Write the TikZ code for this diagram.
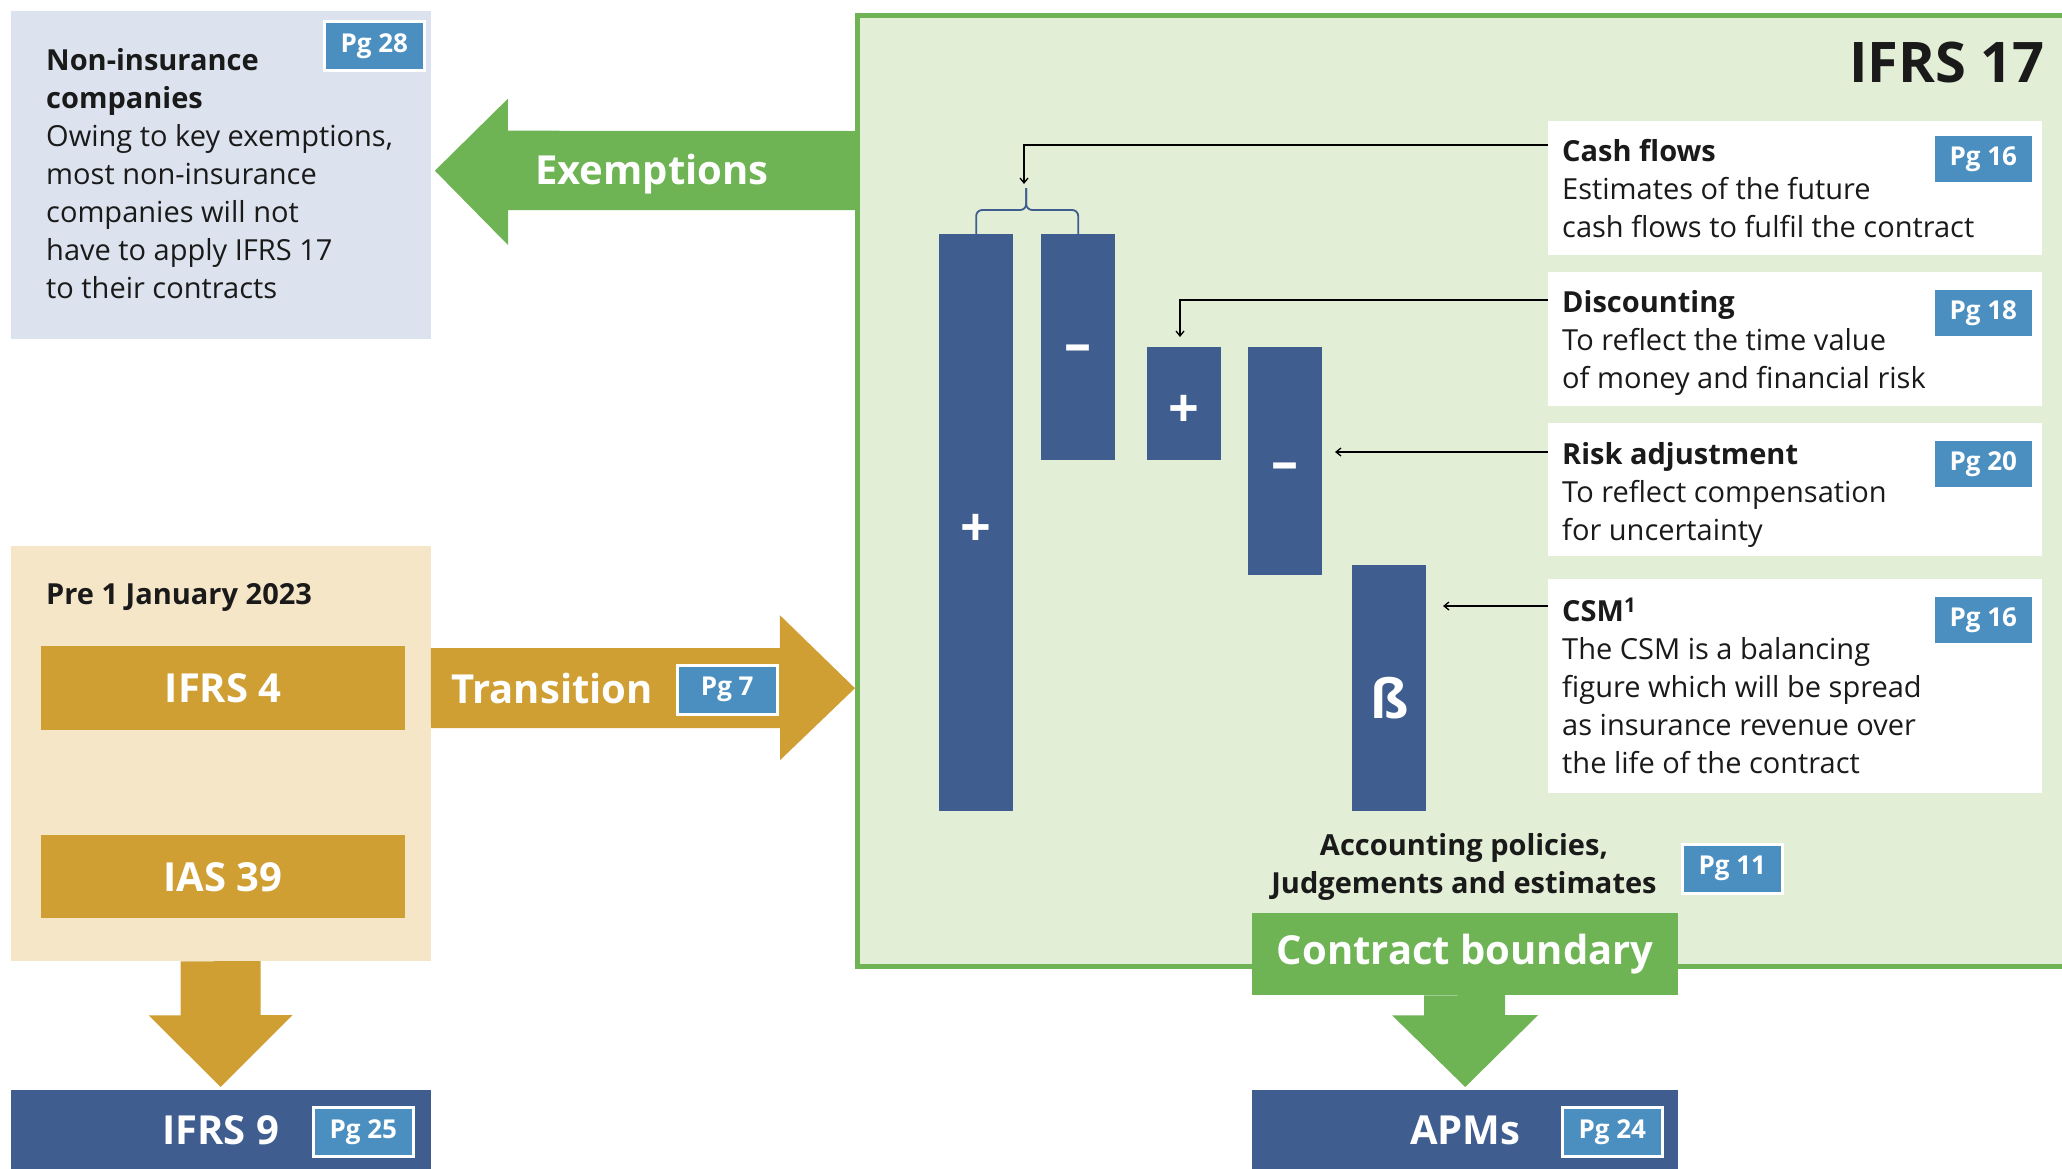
\documentclass[tikz,border=0pt]{standalone}
\usepackage{fontspec}
\setmainfont{Open Sans}
\usetikzlibrary{arrows.meta}

\definecolor{navy}{HTML}{3F5D8F}
\definecolor{pgblue}{HTML}{4A8FC0}
\definecolor{ifrsgreen}{HTML}{6FB454}
\definecolor{framefill}{HTML}{E2EED6}
\definecolor{gold}{HTML}{CF9F33}
\definecolor{beige}{HTML}{F5E6C8}
\definecolor{greyblue}{HTML}{DCE3EE}
\definecolor{ink}{HTML}{1A1A1A}

\newcommand{\fsz}[1]{\fontsize{#1}{#1}\selectfont}

\tikzset{
	pg/.style={fill=pgblue,draw=white,line width=2.5pt,text=white,inner sep=0pt,anchor=north west,
		minimum width=100pt,minimum height=49pt,font=\bfseries\fsz{26}},
	bar/.style={fill=navy,inner sep=0pt,anchor=north west,minimum width=74pt},
	sym/.style={inner sep=0pt,text=white,font=\bfseries\fsz{54}},
	info/.style={fill=white,inner sep=0pt,anchor=north west,minimum width=494pt},
	infotext/.style={anchor=north west,align=left,inner sep=0pt,text=ink,font=\fontsize{29}{38}\selectfont},
	big/.style={text=white,inner sep=0pt,font=\bfseries\fsz{40}},
	link/.style={line width=1.3pt,-{Straight Barb[length=5pt,width=8pt]}},
}

\begin{document}
\begin{tikzpicture}[x=1pt,y=-1pt]
		\useasboundingbox (0,0) rectangle (2062,1168);
		\begin{scope}
			\node[draw=ifrsgreen,fill=framefill,line width=4.5pt,anchor=north west,minimum width=1250pt,minimum height=951pt] (frame) at (855,13) {};
			\node[anchor=east,inner sep=0pt,text=ink,font=\bfseries\fsz{56}] (ifrstitle) at (2045,62) {IFRS 17};
			% bars
			\node[bar,minimum height=577pt] (barA) at (939,234) {};
			\node[bar,minimum height=226pt] (barB) at (1041,234) {};
			\node[bar,minimum height=113pt] (barC) at (1147,347) {};
			\node[bar,minimum height=228pt] (barD) at (1248,347) {};
			\node[bar,minimum height=246pt] (barE) at (1352,565) {};
			\node[sym] (symA) at ([yshift=-8pt]barA.center) {+};
			\node[sym] (symB) at ([yshift=-7pt]barB.center) {--};
			\node[sym] (symC) at ([yshift=-8pt]barC.center) {+};
			\node[sym] (symD) at ([yshift=-11pt]barD.center) {--};
			\node[sym] (symE) at ([yshift=-10pt]barE.center) {ß};
			\draw[navy,line width=1.8pt,rounded corners=6pt] (barA.north) -- ++(0,-24) -| ++(50,-22);
			\draw[navy,line width=1.8pt,rounded corners=6pt] (barB.north) -- ++(0,-24) -| ++(-52,-22);
			% boxes on the right
			\node[info,minimum height=134pt] (cash) at (1548,121) {};
			\node[info,minimum height=134pt] (disc) at (1548,272) {};
			\node[info,minimum height=133pt] (risk) at (1548,423) {};
			\node[info,minimum height=214pt] (csm) at (1548,579) {};
			\node[infotext] (cashtxt) at (1562,139) {\textbf{Cash flows}\\Estimates of the future\\cash flows to fulfil the contract};
			\node[infotext] (disctxt) at (1562,290) {\textbf{Discounting}\\To reflect the time value\\of money and financial risk};
			\node[infotext] (risktxt) at (1562,442) {\textbf{Risk adjustment}\\To reflect compensation\\for uncertainty};
			\node[infotext] (csmtxt) at (1562,598) {\textbf{CSM\textsuperscript{1}}\\The CSM is a balancing\\figure which will be spread\\as insurance revenue over\\the life of the contract};
			\node[pg] (pgcash) at (1932,133) {Pg 16};
			\node[pg] (pgdisc) at (1932,287) {Pg 18};
			\node[pg] (pgrisk) at (1932,438) {Pg 20};
			\node[pg] (pgcsm) at (1932,594) {Pg 16};
			\coordinate (cashtip) at (1024,184);
			\coordinate (disctip) at (1180,337);
			\coordinate (risktip) at (1335,452);
			\coordinate (csmtip) at (1443,606);
			\draw[link] ([yshift=-24pt]cash.north west) -| (cashtip);
			\draw[link] ([yshift=-28pt]disc.north west) -| (disctip);
			\draw[link] ([yshift=-29pt]risk.north west) -- (risktip);
			\draw[link] ([yshift=-27pt]csm.north west) -- (csmtip);
			% bottom of the frame
			\node[align=center,inner sep=0pt,text=ink,font=\bfseries\fontsize{29}{38}\selectfont] (acct) at (1464,867) {Accounting policies,\\Judgements and estimates};
			\node[pg] (pgacct) at (1681,843) {Pg 11};
			\node[big,fill=ifrsgreen,anchor=north west,minimum width=426pt,minimum height=82pt] (contract) at (1252,913) {Contract boundary};
			\node[big,fill=navy,anchor=north west,minimum width=426pt,minimum height=80pt] (apms) at (1252,1090) {APMs};
			\node[pg] (pgapms) at (1561,1106) {Pg 24};
			\fill[ifrsgreen] (contract.south) ++(-41,0) -- ++(0,20) -- ++(-32,0) -- ([yshift=3pt]apms.north) -- ++(73,-72) -- ++(-33,0) -- ++(0,-20) -- cycle;
		\end{scope}
		%
		\begin{scope}
			\node[fill=greyblue,anchor=north west,minimum width=420pt,minimum height=328pt] (noninsurance) at (10.5,10.5) {};
			\node[infotext] (nontxt) at (46,48) {\textbf{Non-insurance}\\\textbf{companies}\\Owing to key exemptions,\\most non-insurance\\companies will not\\have to apply IFRS 17\\to their contracts};
			\node[pg] (pgnon) at (323,20) {Pg 28};
			\fill[ifrsgreen] ([shift={(4pt,4pt)}]noninsurance.east) -- ++(73,-72) -- ++(0,32) -- (frame.west |- 0,131) -- ++(0,79) -- ++(-347,0) -- ++(0,35) -- cycle;
			\node[big] (exlabel) at (652,174) {Exemptions};
		\end{scope}
		%
		\begin{scope}
			\node[fill=beige,anchor=north west,minimum width=420pt,minimum height=415pt] (pre) at (10.5,546) {};
			\node[anchor=west,inner sep=0pt,text=ink,font=\bfseries\fsz{29}] (pretxt) at (46,597) {Pre 1 January 2023};
			\node[big,fill=gold,anchor=north west,minimum width=364pt,minimum height=84pt] (ifrsfour) at (41,646) {IFRS 4};
			\node[big,fill=gold,anchor=north west,minimum width=364pt,minimum height=83pt] (iasnine) at (41,835) {IAS 39};
			\node[big,fill=navy,anchor=north west,minimum width=420pt,minimum height=80pt] (ifrsnine) at (10.5,1090) {IFRS 9};
			\node[pg] (pgnine) at (312,1106) {Pg 25};
			\fill[gold] (pre.east |- ifrsfour.east) ++(0,-40) -- ++(349,0) -- ++(0,-33) -- (frame.west |- ifrsfour.east) -- ++(-75,72) -- ++(0,-32) -- ++(-349,0) -- cycle;
			\node[big] (translabel) at (552,688) {Transition};
			\node[pg] (pgtrans) at (676,664) {Pg 7};
			\fill[gold] (pre.south) ++(-40,0) -- ++(0,54) -- ++(-32,0) -- ([yshift=3pt]ifrsnine.north) -- ++(72,-72) -- ++(-32,0) -- ++(0,-54) -- cycle;
		\end{scope}
	\end{tikzpicture}
\end{document}
